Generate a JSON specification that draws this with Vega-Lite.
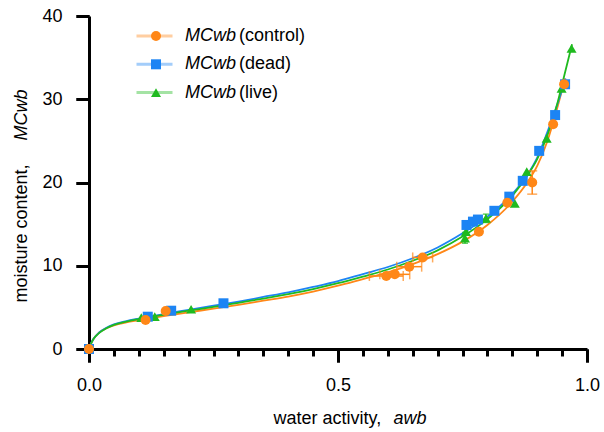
{
  "$schema": "https://vega.github.io/schema/vega-lite/v6.json",
  "width": 498,
  "height": 333,
  "autosize": {"type": "none"},
  "padding": {"left": 89, "top": 16, "right": 17, "bottom": 83},
  "background": "white",
  "config": {
    "view": {"stroke": null},
    "font": "Liberation Sans",
    "axis": {
      "grid": false,
      "ticks": true,
      "tickOpacity": 1,
      "labelFlush": false,
      "domainColor": "black",
      "domainWidth": 3,
      "tickColor": "black",
      "tickWidth": 3,
      "labelFont": "Liberation Sans",
      "labelFontSize": 18,
      "labelColor": "black",
      "titleFont": "Liberation Sans",
      "titleFontSize": 18,
      "titleFontWeight": "normal",
      "titleColor": "black"
    },
    "legend": {"padding": 0}
  },
  "resolve": {"axis": {"x": "independent", "y": "independent"}},
  "datasets": {
    "curves": [
      {"series": "control", "a": 0, "mc": 0},
      {"series": "control", "a": 0.005, "mc": 0.75},
      {"series": "control", "a": 0.01, "mc": 1.3},
      {"series": "control", "a": 0.02, "mc": 1.95},
      {"series": "control", "a": 0.035, "mc": 2.5},
      {"series": "control", "a": 0.05, "mc": 2.85},
      {"series": "control", "a": 0.075, "mc": 3.2},
      {"series": "control", "a": 0.1, "mc": 3.45},
      {"series": "control", "a": 0.15, "mc": 3.95},
      {"series": "control", "a": 0.2, "mc": 4.4},
      {"series": "control", "a": 0.25, "mc": 4.85},
      {"series": "control", "a": 0.3, "mc": 5.3},
      {"series": "control", "a": 0.35, "mc": 5.8},
      {"series": "control", "a": 0.4, "mc": 6.3},
      {"series": "control", "a": 0.45, "mc": 6.9},
      {"series": "control", "a": 0.5, "mc": 7.6},
      {"series": "control", "a": 0.55, "mc": 8.4},
      {"series": "control", "a": 0.6, "mc": 9.2},
      {"series": "control", "a": 0.65, "mc": 10.2},
      {"series": "control", "a": 0.7, "mc": 11.4},
      {"series": "control", "a": 0.75, "mc": 12.9},
      {"series": "control", "a": 0.8, "mc": 14.9},
      {"series": "control", "a": 0.85, "mc": 17.7},
      {"series": "control", "a": 0.88, "mc": 20.0},
      {"series": "control", "a": 0.9, "mc": 22.0},
      {"series": "control", "a": 0.92, "mc": 24.9},
      {"series": "control", "a": 0.94, "mc": 28.9},
      {"series": "control", "a": 0.956, "mc": 32.5},
      {"series": "dead", "a": 0, "mc": 0},
      {"series": "dead", "a": 0.005, "mc": 0.8},
      {"series": "dead", "a": 0.01, "mc": 1.3},
      {"series": "dead", "a": 0.02, "mc": 1.95},
      {"series": "dead", "a": 0.035, "mc": 2.55},
      {"series": "dead", "a": 0.05, "mc": 2.95},
      {"series": "dead", "a": 0.075, "mc": 3.35},
      {"series": "dead", "a": 0.1, "mc": 3.65},
      {"series": "dead", "a": 0.15, "mc": 4.2},
      {"series": "dead", "a": 0.2, "mc": 4.7},
      {"series": "dead", "a": 0.25, "mc": 5.2},
      {"series": "dead", "a": 0.3, "mc": 5.7},
      {"series": "dead", "a": 0.35, "mc": 6.25},
      {"series": "dead", "a": 0.4, "mc": 6.8},
      {"series": "dead", "a": 0.45, "mc": 7.45},
      {"series": "dead", "a": 0.5, "mc": 8.15},
      {"series": "dead", "a": 0.55, "mc": 9.0},
      {"series": "dead", "a": 0.6, "mc": 9.85},
      {"series": "dead", "a": 0.65, "mc": 10.9},
      {"series": "dead", "a": 0.7, "mc": 12.2},
      {"series": "dead", "a": 0.75, "mc": 13.9},
      {"series": "dead", "a": 0.8, "mc": 15.9},
      {"series": "dead", "a": 0.85, "mc": 18.6},
      {"series": "dead", "a": 0.88, "mc": 20.9},
      {"series": "dead", "a": 0.9, "mc": 23.0},
      {"series": "dead", "a": 0.92, "mc": 26.0},
      {"series": "dead", "a": 0.94, "mc": 29.3},
      {"series": "dead", "a": 0.957, "mc": 32.5},
      {"series": "live", "a": 0, "mc": 0},
      {"series": "live", "a": 0.005, "mc": 0.78},
      {"series": "live", "a": 0.01, "mc": 1.28},
      {"series": "live", "a": 0.02, "mc": 1.9},
      {"series": "live", "a": 0.035, "mc": 2.5},
      {"series": "live", "a": 0.05, "mc": 2.9},
      {"series": "live", "a": 0.075, "mc": 3.3},
      {"series": "live", "a": 0.1, "mc": 3.6},
      {"series": "live", "a": 0.15, "mc": 4.1},
      {"series": "live", "a": 0.2, "mc": 4.6},
      {"series": "live", "a": 0.25, "mc": 5.05},
      {"series": "live", "a": 0.3, "mc": 5.55},
      {"series": "live", "a": 0.35, "mc": 6.05},
      {"series": "live", "a": 0.4, "mc": 6.6},
      {"series": "live", "a": 0.45, "mc": 7.2},
      {"series": "live", "a": 0.5, "mc": 7.9},
      {"series": "live", "a": 0.55, "mc": 8.7},
      {"series": "live", "a": 0.6, "mc": 9.55},
      {"series": "live", "a": 0.65, "mc": 10.6},
      {"series": "live", "a": 0.7, "mc": 11.85},
      {"series": "live", "a": 0.75, "mc": 13.5},
      {"series": "live", "a": 0.8, "mc": 15.6},
      {"series": "live", "a": 0.85, "mc": 18.4},
      {"series": "live", "a": 0.88, "mc": 20.8},
      {"series": "live", "a": 0.9, "mc": 22.8},
      {"series": "live", "a": 0.92, "mc": 25.6},
      {"series": "live", "a": 0.94, "mc": 29.4},
      {"series": "live", "a": 0.955, "mc": 33.0},
      {"series": "live", "a": 0.97, "mc": 36.6}
    ],
    "points": [
      {"series": "live", "a": 0, "mc": 0},
      {"series": "live", "a": 0.105, "mc": 3.76},
      {"series": "live", "a": 0.132, "mc": 3.88},
      {"series": "live", "a": 0.205, "mc": 4.77},
      {"series": "live", "a": 0.755, "mc": 13.3},
      {"series": "live", "a": 0.757, "mc": 14.1},
      {"series": "live", "a": 0.797, "mc": 15.7},
      {"series": "live", "a": 0.855, "mc": 17.5},
      {"series": "live", "a": 0.879, "mc": 21.3},
      {"series": "live", "a": 0.919, "mc": 25.3},
      {"series": "live", "a": 0.949, "mc": 31.3},
      {"series": "live", "a": 0.969, "mc": 36.1},
      {"series": "dead", "a": 0, "mc": 0},
      {"series": "dead", "a": 0.118, "mc": 3.88},
      {"series": "dead", "a": 0.165, "mc": 4.6},
      {"series": "dead", "a": 0.27, "mc": 5.49},
      {"series": "dead", "a": 0.758, "mc": 14.9},
      {"series": "dead", "a": 0.771, "mc": 15.3},
      {"series": "dead", "a": 0.781, "mc": 15.55},
      {"series": "dead", "a": 0.814, "mc": 16.6},
      {"series": "dead", "a": 0.844, "mc": 18.3},
      {"series": "dead", "a": 0.871, "mc": 20.2},
      {"series": "dead", "a": 0.904, "mc": 23.8},
      {"series": "dead", "a": 0.936, "mc": 28.1},
      {"series": "dead", "a": 0.956, "mc": 31.8},
      {"series": "control", "a": 0, "mc": 0},
      {"series": "control", "a": 0.1136, "mc": 3.48},
      {"series": "control", "a": 0.154, "mc": 4.56},
      {"series": "control", "a": 0.597, "mc": 8.77},
      {"series": "control", "a": 0.614, "mc": 8.97},
      {"series": "control", "a": 0.643, "mc": 9.89},
      {"series": "control", "a": 0.67, "mc": 11.0},
      {"series": "control", "a": 0.783, "mc": 14.09},
      {"series": "control", "a": 0.84, "mc": 17.57},
      {"series": "control", "a": 0.89, "mc": 20.0},
      {"series": "control", "a": 0.932, "mc": 27.0},
      {"series": "control", "a": 0.954, "mc": 31.8}
    ],
    "herr": [
      {"series": "control", "mc": 8.77, "alo": 0.563, "ahi": 0.631},
      {"series": "control", "mc": 8.97, "alo": 0.584, "ahi": 0.644},
      {"series": "control", "mc": 9.89, "alo": 0.618, "ahi": 0.668},
      {"series": "control", "mc": 11.0, "alo": 0.65, "ahi": 0.69}
    ],
    "verr": [
      {"series": "control", "a": 0.89, "mlo": 18.6, "mhi": 21.4}
    ],
    "verrg": [
      {"series": "live", "a": 0.755, "mlo": 12.7, "mhi": 14.0},
      {"series": "live", "a": 0.797, "mlo": 15.2, "mhi": 16.2}
    ]
  },
  "layer": [
    {
      "data": {"name": "curves"},
      "mark": {"type": "line", "interpolate": "monotone", "strokeWidth": 1.8, "clip": false},
      "encoding": {
        "x": {
          "field": "a",
          "type": "quantitative",
          "scale": {"domain": [0, 1], "nice": false, "zero": false},
          "axis": null
        },
        "y": {
          "field": "mc",
          "type": "quantitative",
          "scale": {"domain": [0, 40], "nice": false},
          "axis": null
        },
        "stroke": {
          "field": "series",
          "type": "nominal",
          "scale": {"domain": ["control", "dead", "live"], "range": ["#FF8717", "#1C84F4", "#1FBA1F"]},
          "legend": {
            "orient": "none",
            "legendX": 56.5,
            "legendY": 11,
            "title": null,
            "symbolType": "M-3.6,0H3.6",
            "symbolSize": 100,
            "symbolStrokeWidth": 3,
            "symbolOpacity": 0.4,
            "labelFontSize": 18,
            "labelFont": "Liberation Sans",
            "labelFontStyle": "italic",
            "labelColor": "black",
            "labelOffset": 21.5,
            "rowPadding": 10.3,
            "labelExpr": "'MCwb'"
          }
        }
      }
    },
    {
      "data": {"name": "herr"},
      "mark": {"type": "errorbar", "ticks": true, "color": "#FF8717", "thickness": 1.5, "size": 10},
      "encoding": {
        "x": {"field": "alo", "type": "quantitative", "axis": null},
        "x2": {"field": "ahi"},
        "y": {"field": "mc", "type": "quantitative", "axis": null}
      }
    },
    {
      "data": {"name": "verr"},
      "mark": {"type": "errorbar", "ticks": true, "color": "#FF8717", "thickness": 1.5, "size": 10},
      "encoding": {
        "y": {"field": "mlo", "type": "quantitative", "axis": null},
        "y2": {"field": "mhi"},
        "x": {"field": "a", "type": "quantitative", "axis": null}
      }
    },
    {
      "data": {"name": "verrg"},
      "mark": {"type": "errorbar", "ticks": true, "color": "#1FBA1F", "thickness": 1.5, "size": 6},
      "encoding": {
        "y": {"field": "mlo", "type": "quantitative", "axis": null},
        "y2": {"field": "mhi"},
        "x": {"field": "a", "type": "quantitative", "axis": null}
      }
    },
    {
      "data": {"name": "points"},
      "mark": {"type": "point", "filled": true, "size": 100, "opacity": 0, "clip": false},
      "encoding": {
        "x": {
          "field": "a",
          "type": "quantitative",
          "axis": {
            "orient": "bottom",
            "values": [0.05, 0.1, 0.15, 0.2, 0.25, 0.3, 0.35, 0.4, 0.45, 0.55, 0.6, 0.65, 0.7, 0.75, 0.8, 0.85, 0.9, 0.95],
            "ticks": true,
            "tickSize": 7,
            "labels": false,
            "domain": false,
            "title": "awb",
            "titleFontStyle": "italic",
            "titleX": 304,
            "titleY": 74,
            "titleAlign": "left",
            "titleBaseline": "alphabetic"
          }
        },
        "y": {
          "field": "mc",
          "type": "quantitative",
          "axis": {
            "orient": "left",
            "ticks": false,
            "labels": false,
            "domain": false,
            "title": "MCwb",
            "titleFontStyle": "italic",
            "titleX": -63,
            "titleY": 124,
            "titleAngle": -90,
            "titleAlign": "left",
            "titleBaseline": "alphabetic"
          }
        }
      }
    },
    {
      "data": {"name": "points"},
      "mark": {"type": "point", "filled": true, "size": 100, "opacity": 0, "clip": false},
      "encoding": {
        "x": {
          "field": "a",
          "type": "quantitative",
          "axis": {
            "orient": "bottom",
            "values": [0, 0.5, 1],
            "ticks": true,
            "tickSize": 13,
            "labels": false,
            "domain": false,
            "title": " ",
            "titleX": 0,
            "titleY": 74,
            "titleAlign": "left",
            "titleBaseline": "alphabetic"
          }
        },
        "y": {
          "field": "mc",
          "type": "quantitative",
          "axis": {
            "orient": "left",
            "values": [0, 10, 20, 30, 40],
            "ticks": true,
            "tickSize": 13,
            "labels": false,
            "domain": false,
            "title": " ",
            "titleX": -63,
            "titleY": 300,
            "titleAngle": -90,
            "titleAlign": "left",
            "titleBaseline": "alphabetic"
          }
        }
      }
    },
    {
      "data": {"name": "points"},
      "mark": {"type": "point", "filled": true, "size": 100, "opacity": 1, "clip": false},
      "encoding": {
        "x": {
          "field": "a",
          "type": "quantitative",
          "axis": {
            "orient": "bottom",
            "values": [0, 0.5, 1],
            "format": ".1f",
            "ticks": true,
            "tickSize": 13,
            "labelPadding": 14,
            "title": "water activity,",
            "titleX": 184,
            "titleY": 74,
            "titleAlign": "left",
            "titleBaseline": "alphabetic"
          }
        },
        "y": {
          "field": "mc",
          "type": "quantitative",
          "axis": {
            "orient": "left",
            "values": [0, 10, 20, 30, 40],
            "ticks": true,
            "tickSize": 13,
            "labelPadding": 14,
            "title": "moisture content,",
            "titleX": -63,
            "titleY": 286,
            "titleAngle": -90,
            "titleAlign": "left",
            "titleBaseline": "alphabetic"
          }
        },
        "color": {
          "field": "series",
          "type": "nominal",
          "scale": {"range": ["#FF8717", "#1C84F4", "#1FBA1F"]},
          "legend": {
            "orient": "none",
            "legendX": 58,
            "legendY": 11,
            "title": null,
            "symbolSize": 100,
            "symbolStrokeWidth": 0,
            "symbolOpacity": 1,
            "labelFontSize": 18,
            "labelFont": "Liberation Sans",
            "labelColor": "black",
            "labelOffset": 74,
            "rowPadding": 10.3,
            "labelExpr": "'(' + datum.label + ')'"
          }
        },
        "shape": {
          "field": "series",
          "type": "nominal",
          "scale": {"range": ["circle", "square", "triangle-up"]},
          "legend": {
            "orient": "none",
            "legendX": 58,
            "legendY": 11,
            "title": null,
            "symbolSize": 100,
            "symbolStrokeWidth": 0,
            "symbolOpacity": 1,
            "labelFontSize": 18,
            "labelFont": "Liberation Sans",
            "labelColor": "black",
            "labelOffset": 74,
            "rowPadding": 10.3,
            "labelExpr": "'(' + datum.label + ')'"
          }
        }
      }
    }
  ]
}
